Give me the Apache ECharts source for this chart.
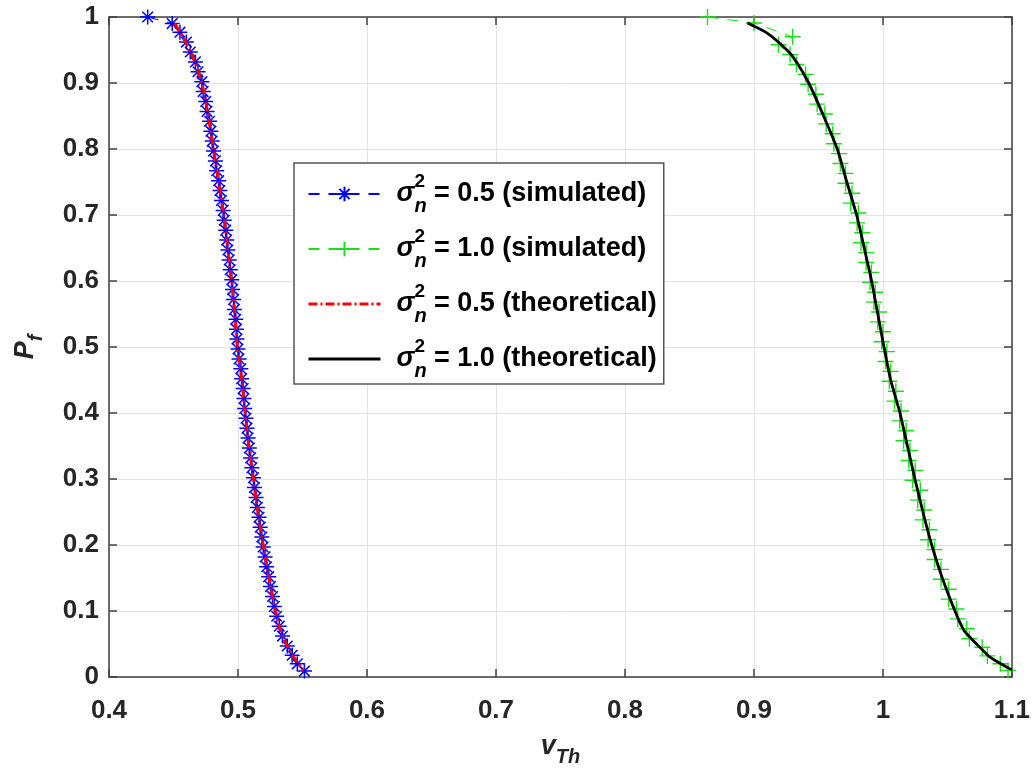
<!DOCTYPE html>
<html><head><meta charset="utf-8">
<script src="https://cdn.jsdelivr.net/npm/echarts@6/dist/echarts.min.js"></script>
<style>html,body{margin:0;padding:0;background:#fff}#c{width:1033px;height:775px}</style>
</head><body><div id="c"></div>
<script>
const xTickLabels = ['0.4','0.5','0.6','0.7','0.8','0.9','1','1.1'];
const yTickLabels = ['0','0.1','0.2','0.3','0.4','0.5','0.6','0.7','0.8','0.9','1'];

const seriesNames = ['s05sim','s10sim','s05th','s10th'];
const legendValues = ['0.5','1.0','0.5','1.0'];
const legendKinds = ['simulated','simulated','theoretical','theoretical'];

const blueSimP = [1.000,0.990,0.977,0.962,0.947,0.932,0.917,0.902,0.887,0.872,0.857,0.842,0.827,0.812,0.797,0.782,0.767,0.752,0.737,0.722,0.707,0.692,0.677,0.662,0.647,0.632,0.617,0.602,0.587,0.572,0.557,0.542,0.527,0.512,0.497,0.482,0.467,0.452,0.437,0.422,0.407,0.392,0.377,0.362,0.347,0.332,0.317,0.302,0.287,0.272,0.257,0.242,0.227,0.212,0.197,0.182,0.167,0.152,0.137,0.122,0.107,0.092,0.077,0.062,0.047,0.033,0.020,0.009];
const blueSimX = [0.430,0.449,0.455,0.460,0.463,0.467,0.469,0.472,0.473,0.475,0.476,0.478,0.479,0.480,0.481,0.4825,0.4835,0.485,0.486,0.4872,0.4885,0.4893,0.4905,0.4912,0.4922,0.4932,0.4940,0.4952,0.4958,0.4966,0.4972,0.4983,0.4988,0.4992,0.5000,0.5008,0.5022,0.5028,0.5040,0.5046,0.5052,0.5062,0.5070,0.5078,0.5088,0.5098,0.5108,0.5120,0.5128,0.5140,0.5150,0.5163,0.5172,0.5185,0.5195,0.5210,0.5222,0.5238,0.5252,0.5268,0.5282,0.5300,0.5320,0.5345,0.5382,0.5420,0.5460,0.5515];

const greenSimP = [1.000,0.991,0.970,0.958,0.943,0.928,0.913,0.898,0.883,0.868,0.853,0.838,0.823,0.808,0.793,0.778,0.763,0.748,0.733,0.718,0.703,0.688,0.673,0.658,0.643,0.628,0.613,0.598,0.583,0.568,0.553,0.538,0.523,0.508,0.493,0.478,0.463,0.448,0.433,0.418,0.403,0.388,0.373,0.358,0.343,0.328,0.313,0.298,0.283,0.268,0.253,0.238,0.223,0.208,0.193,0.178,0.163,0.148,0.133,0.118,0.103,0.088,0.073,0.058,0.045,0.032,0.020,0.010];
const greenSimX = [0.864,0.900,0.930,0.919,0.928,0.933,0.940,0.942,0.948,0.949,0.955,0.956,0.961,0.962,0.966,0.967,0.971,0.971,0.976,0.975,0.981,0.980,0.984,0.983,0.987,0.987,0.991,0.990,0.994,0.993,0.997,0.996,1.000,0.999,1.003,1.002,1.006,1.005,1.010,1.009,1.014,1.013,1.018,1.016,1.021,1.020,1.025,1.023,1.029,1.027,1.032,1.031,1.036,1.035,1.040,1.040,1.045,1.045,1.051,1.051,1.057,1.058,1.065,1.067,1.077,1.081,1.091,1.097];

const redThP = [0.99,0.98,0.96,0.935,0.9,0.85,0.8,0.75,0.7,0.65,0.6,0.55,0.5,0.45,0.4,0.35,0.3,0.25,0.2,0.15,0.1,0.07,0.05,0.03,0.01];
const redThX = [0.451,0.454,0.460,0.466,0.472,0.477,0.481,0.485,0.489,0.492,0.495,0.4975,0.4995,0.503,0.5055,0.5085,0.512,0.5155,0.5195,0.524,0.529,0.533,0.5375,0.543,0.551];

const blackThP = [0.991,0.976,0.95,0.935,0.9,0.85,0.8,0.75,0.7,0.65,0.6,0.55,0.5,0.45,0.4,0.35,0.3,0.25,0.2,0.15,0.1,0.07,0.05,0.03,0.015,0.011];
const blackThX = [0.895,0.910,0.9256,0.932,0.9425,0.954,0.9646,0.972,0.9796,0.9855,0.9912,0.996,1.0008,1.006,1.0132,1.019,1.0248,1.031,1.0378,1.046,1.0558,1.063,1.0726,1.083,1.0959,1.1];

const zip = (xs, ys) => xs.map((x, i) => [x, ys[i]]);

const FONT = '"Liberation Sans", Arial, Helvetica, sans-serif';
const AX = '#404040';
const starPath = 'path://M0,-10L0,10M-10,0L10,0M-7.07,-7.07L7.07,7.07M-7.07,7.07L7.07,-7.07';
const plusPath = 'path://M0,-10L0,10M-10,0L10,0';
const BLUE = '#0000ff', GREEN = '#18e018', RED = '#ff0000', BLACK = '#000000';

const chart = echarts.init(document.getElementById('c'), null, {renderer: 'canvas'});

function baseAxis(extra) {
  return Object.assign({
    type: 'value',
    axisLine: {show: true, onZero: false, lineStyle: {color: AX, width: 1.5}},
    axisTick: {show: true, inside: true, length: 8, lineStyle: {color: AX, width: 1.5}},
    splitLine: {show: false},
    axisLabel: {show: false}
  }, extra);
}

const labelStyle = {show: true, fontFamily: FONT, fontSize: 26, fontWeight: 'bold', color: '#262626'};

const option = {
  animation: false,
  backgroundColor: '#ffffff',
  grid: {left: 109, right: 21, top: 17, bottom: 98},
  xAxis: [
    baseAxis({
      min: 0.4, max: 1.1, interval: 0.1, position: 'bottom',
      splitLine: {show: true, lineStyle: {color: '#e3e3e3', width: 1}},
      axisLabel: Object.assign({margin: 21, formatter: (v, i) => xTickLabels[i]}, labelStyle),
      name: '{v|v}{th|Th}', nameLocation: 'middle', nameGap: 56,
      nameTextStyle: {rich: {
        v: {fontFamily: FONT, fontSize: 27, fontWeight: 'bold', fontStyle: 'italic', color: '#262626', verticalAlign: 'top', lineHeight: 34},
        th: {fontFamily: FONT, fontSize: 20, fontWeight: 'bold', fontStyle: 'italic', color: '#262626', verticalAlign: 'bottom', lineHeight: 34}
      }}
    }),
    baseAxis({min: 0.4, max: 1.1, interval: 0.1, position: 'top'})
  ],
  yAxis: [
    baseAxis({
      min: 0, max: 1, interval: 0.1, position: 'left',
      splitLine: {show: true, lineStyle: {color: '#e3e3e3', width: 1}},
      axisLabel: Object.assign({margin: 10, formatter: (v, i) => yTickLabels[i]}, labelStyle),
      name: '{p|P}{f|f}', nameLocation: 'middle', nameGap: 63,
      nameTextStyle: {rich: {
        p: {fontFamily: FONT, fontSize: 27, fontWeight: 'bold', fontStyle: 'italic', color: '#262626', verticalAlign: 'top', lineHeight: 34},
        f: {fontFamily: FONT, fontSize: 20, fontWeight: 'bold', fontStyle: 'italic', color: '#262626', verticalAlign: 'bottom', lineHeight: 34}
      }}
    }),
    baseAxis({min: 0, max: 1, interval: 0.1, position: 'right'})
  ],
  legend: {
    show: true,
    orient: 'vertical',
    left: 294, top: 163,
    padding: [9, 7, 3, 13],
    itemGap: 11,
    itemWidth: 72, itemHeight: 18,
    itemTextGap: 5,
    backgroundColor: '#ffffff',
    borderColor: '#555555', borderWidth: 1.5, borderRadius: 0,
    data: [
      {name: seriesNames[0]},
      {name: seriesNames[1]},
      {name: seriesNames[2], itemStyle: {opacity: 0}, lineStyle: {width: 3}},
      {name: seriesNames[3], itemStyle: {opacity: 0}, lineStyle: {width: 3}}
    ],
    formatter: (name) => {
      const i = seriesNames.indexOf(name);
      return '{s|σ}{sup|2}{sub|n}{t| = ' + legendValues[i] + ' (' + legendKinds[i] + ')}';
    },
    textStyle: {
      rich: {
        s: {fontFamily: FONT, fontSize: 27, fontWeight: 'bold', fontStyle: 'italic', color: '#000', lineHeight: 44, padding: [0, 0, 0, 11]},
        sup: {fontFamily: FONT, fontSize: 19, fontWeight: 'bold', color: '#000', lineHeight: 44, verticalAlign: 'top', width: 0},
        sub: {fontFamily: FONT, fontSize: 20, fontWeight: 'bold', fontStyle: 'italic', color: '#000', lineHeight: 44, verticalAlign: 'bottom', width: 12},
        t: {fontFamily: FONT, fontSize: 27, fontWeight: 'bold', color: '#000', lineHeight: 44}
      }
    }
  },
  series: [
    {
      name: seriesNames[0], type: 'line', data: zip(blueSimX, blueSimP),
      symbol: starPath, symbolSize: 15, symbolKeepAspect: true, showAllSymbol: true,
      itemStyle: {color: BLUE, borderColor: BLUE, borderWidth: 1.5},
      lineStyle: {color: BLUE, width: 1, type: [11, 9]},
      z: 2
    },
    {
      name: seriesNames[1], type: 'line', data: zip(greenSimX, greenSimP),
      symbol: plusPath, symbolSize: 16, symbolKeepAspect: true, showAllSymbol: true,
      itemStyle: {color: GREEN, borderColor: GREEN, borderWidth: 1.4},
      lineStyle: {color: GREEN, width: 1, type: [11, 9]},
      z: 2
    },
    {
      name: seriesNames[2], type: 'line', data: zip(redThX, redThP),
      symbol: 'none', smooth: 0.2,
      itemStyle: {color: RED},
      lineStyle: {color: RED, width: 3, type: [9, 3, 2, 3]},
      z: 3
    },
    {
      name: seriesNames[3], type: 'line', data: zip(blackThX, blackThP),
      symbol: 'none', smooth: 0.2,
      itemStyle: {color: BLACK},
      lineStyle: {color: BLACK, width: 2.8},
      z: 3
    }
  ]
};
chart.setOption(option);
</script>
</body></html>
